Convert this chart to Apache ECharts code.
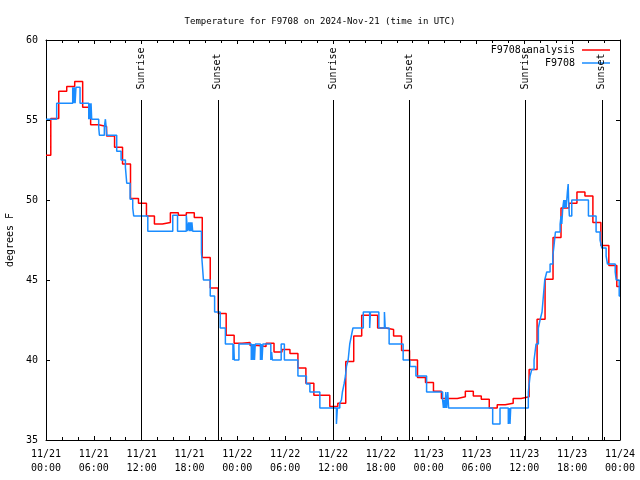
<!DOCTYPE html>
<html><head><meta charset="utf-8">
<script src="https://cdn.jsdelivr.net/npm/echarts/dist/echarts.min.js"></script>
<style>html,body{margin:0;padding:0;background:#fff}#c{width:640px;height:480px}</style>
</head><body><div id="c"></div>
<script>
// ---- data (hours after 2024-11-21 00:00 UTC) ----
const titleText = 'Temperature for F9708 on 2024-Nov-21 (time in UTC)';
const xTickDates = ['11/21','11/21','11/21','11/21','11/22','11/22','11/22','11/22','11/23','11/23','11/23','11/23','11/24'];
const xTickTimes = ['00:00','06:00','12:00','18:00','00:00','06:00','12:00','18:00','00:00','06:00','12:00','18:00','00:00'];
const yTickValues = [35, 40, 45, 50, 55, 60];

// analysis: first value from 00:00, then hourly values changing at hh:36
const redHours = [0, 0.6, 1.6, 2.6, 3.6, 4.6, 5.6, 6.6, 7.6, 8.6, 9.6, 10.6, 11.6, 12.6, 13.6, 14.6, 15.6, 16.6, 17.6, 18.6, 19.6, 20.6, 21.6, 22.6, 23.6, 24.6, 25.6, 26.6, 27.6, 28.6, 29.6, 30.6, 31.6, 32.6, 33.6, 34.6, 35.6, 36.6, 37.6, 38.6, 39.6, 40.6, 41.6, 42.6, 43.6, 44.6, 45.6, 46.6, 47.6, 48.6, 49.6, 50.6, 51.6, 52.6, 53.6, 54.6, 55.6, 56.6, 57.6, 58.6, 59.6, 60.6, 61.6, 62.6, 63.6, 64.6, 65.6, 66.6, 67.6, 68.6, 69.6, 70.6, 71.6, 72];
const redValues = [52.8, 55.1, 56.8, 57.1, 57.4, 55.8, 54.7, 54.6, 54.0, 53.3, 52.25, 50.1, 49.8, 49.0, 48.5, 48.6, 49.2, 49.05, 49.2, 48.9, 46.4, 44.5, 42.9, 41.55, 41.05, 41.1, 40.9, 40.85, 41.05, 40.5, 40.65, 40.4, 39.5, 38.55, 37.8, 37.8, 37.1, 37.3, 39.9, 41.5, 42.8, 42.8, 42.0, 41.9, 41.5, 40.6, 40.0, 38.9, 38.6, 38.05, 37.6, 37.6, 37.7, 38.05, 37.75, 37.55, 37.0, 37.2, 37.3, 37.6, 37.7, 39.4, 42.55, 45.05, 47.65, 49.5, 49.8, 50.5, 50.25, 48.6, 47.15, 45.9, 44.6, 44.6];

// observations (change points)
const blueHours = [0, 1.34, 3.35, 3.45, 3.55, 3.65, 3.76, 4.27, 5.36, 5.45, 5.55, 5.65, 5.73, 6.61, 6.7, 7.32, 7.45, 7.55, 7.62, 8.87, 9.42, 9.96, 10.13, 10.55, 10.88, 11.0, 12.77, 15.9, 16.5, 17.6, 17.75, 17.9, 18.0, 18.1, 18.2, 18.3, 18.4, 19.5, 19.75, 20.6, 21.15, 21.85, 22.5, 23.45, 23.55, 23.62, 24.2, 25.75, 25.85, 25.95, 26.05, 26.15, 26.25, 26.9, 27.0, 27.1, 27.2, 28.2, 28.3, 28.4, 29.5, 29.9, 31.6, 32.66, 33.1, 34.35, 36.43, 36.55, 36.85, 37.06, 37.18, 37.39, 37.56, 37.69, 37.9, 38.1, 38.3, 38.5, 39.8, 40.6, 40.7, 41.75, 42.45, 42.55, 43.04, 44.8, 45.64, 46.4, 47.74, 49.75, 49.85, 49.95, 50.05, 50.15, 50.25, 50.4, 50.5, 56.03, 56.95, 57.99, 58.1, 58.2, 58.29, 60.5, 60.72, 60.93, 61.22, 61.47, 61.76, 61.97, 62.22, 62.39, 62.56, 62.81, 63.23, 63.57, 63.69, 63.9, 64.49, 64.6, 64.7, 64.82, 64.95, 65.03, 65.15, 65.25, 65.4, 65.5, 65.55, 65.65, 65.95, 68.04, 69.0, 69.5, 69.72, 70.26, 70.43, 71.4, 71.52, 71.9, 72];
const blueValues = [55.05, 56.05, 57.05, 56.05, 57.05, 56.05, 57.05, 56.05, 55.05, 56.05, 55.05, 56.05, 55.05, 54.55, 54.05, 54.55, 55.05, 54.55, 54.05, 53.05, 52.5, 52.05, 51.05, 50.05, 49.5, 49.0, 48.05, 49.05, 48.05, 49.05, 48.05, 48.6, 48.05, 48.6, 48.05, 48.6, 48.05, 46.7, 45.0, 44.0, 43.0, 42.0, 41.0, 40.0, 41.0, 40.0, 41.0, 40.0, 41.0, 40.0, 41.0, 40.0, 41.0, 40.0, 41.0, 40.0, 41.0, 40.0, 40.5, 40.0, 41.0, 40.0, 39.0, 38.5, 38.0, 37.0, 36.0, 37.0, 37.3, 37.5, 38.0, 38.5, 39.0, 39.6, 40.0, 41.0, 41.5, 42.0, 43.0, 42.0, 43.0, 42.0, 43.0, 42.0, 41.0, 40.0, 39.6, 39.0, 38.0, 37.5, 37.0, 37.5, 37.0, 38.0, 37.0, 38.0, 37.0, 36.0, 37.0, 36.0, 37.0, 36.0, 37.0, 38.0, 39.0, 39.4, 40.0, 41.0, 42.0, 42.5, 43.0, 44.0, 45.0, 45.5, 46.0, 46.5, 47.0, 48.0, 48.5, 49.0, 48.5, 49.5, 50.0, 49.5, 50.0, 49.5, 50.5, 51.0, 50.0, 49.0, 50.0, 49.0, 48.0, 47.5, 47.0, 46.5, 46.0, 45.5, 45.0, 44.0, 44.0];

const sunEventHours = [11.93, 21.56, 36.0, 45.56, 60.15, 69.72];
const sunEventNames = ['Sunrise', 'Sunset', 'Sunrise', 'Sunset', 'Sunrise', 'Sunset'];

// ---- chart ----
const FONT = 'DejaVu Sans Mono';
const chart = echarts.init(document.getElementById('c'), null, {renderer: 'canvas'});
const pair = (xs, ys) => xs.map((x, i) => [x, ys[i]]);
const axisCommon = {
  type: 'value', min: 0, max: 72, interval: 6,
  axisLine: {show: true, onZero: false, lineStyle: {color: '#000', width: 1}},
  axisTick: {show: true, inside: true, length: 4, lineStyle: {color: '#000'}},
  minorTick: {show: true, splitNumber: 3, length: 3, lineStyle: {color: '#000'}},
  splitLine: {show: false}
};
const yCommon = {
  type: 'value', min: 35, max: 60, interval: 5,
  axisLine: {show: true, onZero: false, lineStyle: {color: '#000', width: 1}},
  axisTick: {show: true, inside: true, length: 4, lineStyle: {color: '#000'}},
  splitLine: {show: false}
};
chart.setOption({
  animation: false,
  backgroundColor: '#fff',
  title: {text: titleText, left: 'center', top: 12,
    textStyle: {fontFamily: FONT, fontSize: 9, fontWeight: 'normal', color: '#000'}},
  legend: {
    data: ['F9708 analysis', 'F9708'], orient: 'vertical', right: 30, top: 45, padding: 0,
    align: 'right', icon: 'rect', itemWidth: 28, itemHeight: 1.5, itemGap: 3,
    textStyle: {fontFamily: FONT, fontSize: 10, color: '#000', padding: [0, 2, 0, 0]}
  },
  grid: {left: 46, right: 20, top: 40, bottom: 40, containLabel: false, outerBoundsMode: 'none'},
  xAxis: [
    Object.assign({}, axisCommon, {position: 'bottom',
      axisLabel: {show: true, margin: 7, fontFamily: FONT, fontSize: 10, color: '#000', lineHeight: 14,
        formatter: v => { const i = Math.round(v / 6); return xTickDates[i] + '\n' + xTickTimes[i]; }}}),
    Object.assign({}, axisCommon, {position: 'top', axisLabel: {show: false}})
  ],
  yAxis: [
    Object.assign({}, yCommon, {position: 'left', name: 'degrees F', nameLocation: 'middle', nameGap: 31, nameRotate: 90,
      nameTextStyle: {fontFamily: FONT, fontSize: 10, color: '#000'},
      axisLabel: {show: true, margin: 8, fontFamily: FONT, fontSize: 10, color: '#000',
        formatter: v => yTickValues.includes(v) ? String(v) : ''}}),
    Object.assign({}, yCommon, {position: 'right', axisLabel: {show: false}})
  ],
  series: [
    {
      name: 'F9708 analysis', type: 'line', step: 'end', symbol: 'none', showSymbol: false,
      data: pair(redHours, redValues), color: '#ff0000',
      lineStyle: {color: '#ff0000', width: 1.5}, z: 2,
      markLine: {
        silent: true, symbol: ['none', 'none'], label: {show: false},
        lineStyle: {color: '#000', width: 1, type: 'solid'},
        data: sunEventHours.map(h => [{coord: [h, 35]}, {coord: [h, 56.25]}])
      }
    },
    {
      name: 'F9708', type: 'line', step: 'end', symbol: 'none', showSymbol: false,
      data: pair(blueHours, blueValues), color: '#1a8cff',
      lineStyle: {color: '#1a8cff', width: 1.5}, z: 3
    },
    {
      name: 'sun', type: 'scatter', symbolSize: 0, itemStyle: {color: '#000', opacity: 1},
      data: sunEventHours.map((h, i) => [h, 56.9, sunEventNames[i]]), z: 4, silent: true,
      label: {show: true, position: [0, 0], rotate: 90, align: 'left', verticalAlign: 'middle',
        fontFamily: FONT, fontSize: 10, color: '#000', opacity: 1, textBorderWidth: 0,
        formatter: p => p.value[2]}
    }
  ]
});
</script>
</body></html>
